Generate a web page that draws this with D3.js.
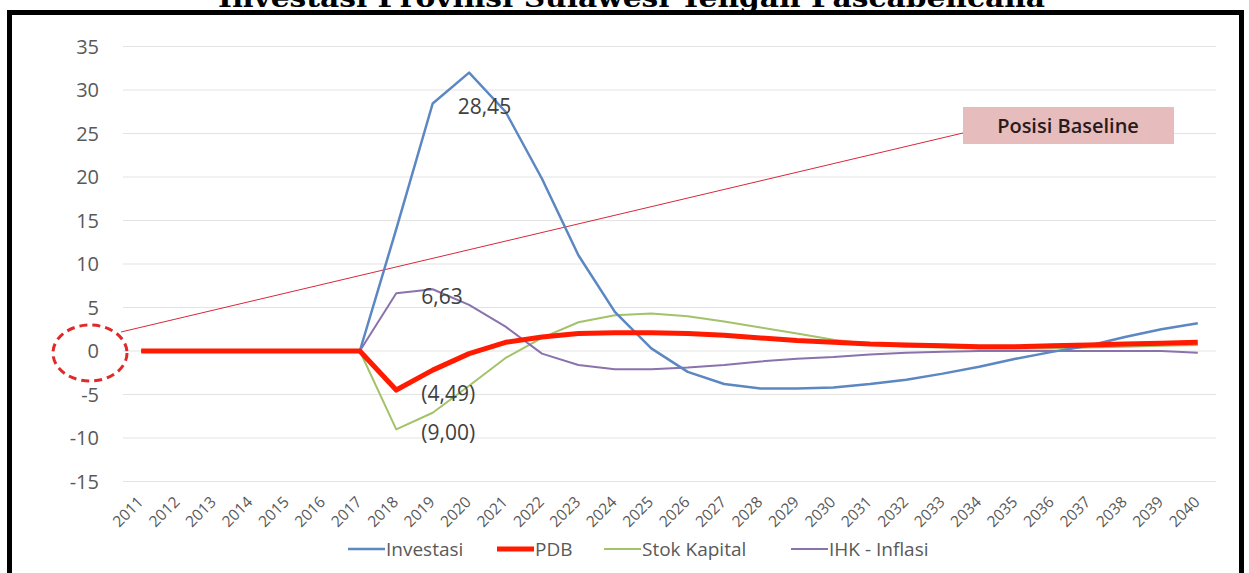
<!DOCTYPE html>
<html>
<head>
<meta charset="utf-8">
<script src="https://cdn.jsdelivr.net/npm/d3@7"></script>
<style>
  body { margin: 0; background: #fff; }
  svg { display: block; }
  text { font-family: "Open Sans", sans-serif; }
</style>
</head>
<body>
<svg width="1249" height="573"></svg>
<script>
// years on the category axis
var years = d3.range(2011, 2041).map(String);

// series values
var investasi = [0, 0, 0, 0, 0, 0, 0, 14, 28.45, 32.0, 27.5, 19.8, 11.0, 4.5, 0.3, -2.4, -3.8, -4.3, -4.3, -4.2, -3.8, -3.3, -2.6, -1.8, -0.9, -0.1, 0.6, 1.6, 2.5, 3.2];
var pdb = [0, 0, 0, 0, 0, 0, 0, -4.49, -2.2, -0.3, 1.0, 1.6, 2.0, 2.1, 2.1, 2.0, 1.8, 1.5, 1.2, 1.0, 0.8, 0.7, 0.6, 0.5, 0.5, 0.6, 0.7, 0.8, 0.9, 1.0];
var stokKapital = [0, 0, 0, 0, 0, 0, 0, -9.0, -7.1, -4.0, -0.8, 1.5, 3.3, 4.1, 4.3, 4.0, 3.4, 2.7, 2.0, 1.3, 0.8, 0.5, 0.4, 0.3, 0.3, 0.3, 0.4, 0.5, 0.6, 0.7];
var ihk = [0, 0, 0, 0, 0, 0, 0, 6.63, 7.1, 5.3, 2.8, -0.3, -1.6, -2.1, -2.1, -1.9, -1.6, -1.2, -0.9, -0.7, -0.4, -0.2, -0.1, 0, 0, 0, 0, 0, 0, -0.2];

var yTicks = [35, 30, 25, 20, 15, 10, 5, 0, -5, -10, -15];

// which points carry a data label: [series index, year]
var labelled = [[0, "2019"], [1, "2018"], [2, "2018"], [3, "2018"]];

var series = [
  { name: "Investasi", values: investasi, color: "#5b87c2", width: 2.5 },
  { name: "PDB", values: pdb, color: "#ff1a00", width: 5 },
  { name: "Stok Kapital", values: stokKapital, color: "#a3c26a", width: 2 },
  { name: "IHK - Inflasi", values: ihk, color: "#8a72ad", width: 2 }
];

var svg = d3.select("svg");

// frame
svg.append("rect")
  .attr("x", 9.5).attr("y", 12.5)
  .attr("width", 1232).attr("height", 600)
  .attr("fill", "#fff").attr("stroke", "#000").attr("stroke-width", 5);

// title, cut off at the top of the picture
svg.append("text")
  .attr("x", 218).attr("y", 7)
  .attr("textLength", 827).attr("lengthAdjust", "spacingAndGlyphs")
  .style("font-family", "'DejaVu Serif', serif")
  .style("font-weight", "bold")
  .style("font-size", "26px")
  .attr("fill", "#000")
  .text("Investasi Provinsi Sulawesi Tengah Pascabencana");

var x = d3.scalePoint().domain(years).range([123, 1216]).padding(0.5);
var y = d3.scaleLinear().domain([-15, 35]).range([481.5, 46.5]);

// gridlines
svg.append("g").selectAll("line")
  .data(yTicks)
  .enter().append("line")
  .attr("x1", 123).attr("x2", 1216)
  .attr("y1", function(d) { return y(d); })
  .attr("y2", function(d) { return y(d); })
  .attr("stroke", "#e3e3e3").attr("stroke-width", 1.2);

// y labels
svg.append("g").selectAll("text")
  .data(yTicks)
  .enter().append("text")
  .attr("x", 99)
  .attr("y", function(d) { return y(d) + 7; })
  .attr("text-anchor", "end")
  .attr("fill", "#595959")
  .style("font-size", "20px")
  .text(function(d) { return d; });

// x labels
svg.append("g").selectAll("text")
  .data(years)
  .enter().append("text")
  .attr("text-anchor", "end")
  .attr("transform", function(d) { return "translate(" + (x(d) + 3) + ",503) rotate(-45)"; })
  .attr("fill", "#595959")
  .style("font-size", "15.5px")
  .text(function(d) { return d; });

// baseline marker
svg.append("ellipse")
  .attr("cx", 90).attr("cy", 353).attr("rx", 37).attr("ry", 28)
  .attr("fill", "none").attr("stroke", "#e02a2a")
  .attr("stroke-width", 3).attr("stroke-dasharray", "8,5");

svg.append("line")
  .attr("x1", 121).attr("y1", 332).attr("x2", 963).attr("y2", 133)
  .attr("stroke", "#d8283a").attr("stroke-width", 1);

svg.append("rect")
  .attr("x", 963).attr("y", 107).attr("width", 211).attr("height", 37)
  .attr("fill", "#e6bcbc");

svg.append("text")
  .attr("x", 1068).attr("y", 133)
  .attr("text-anchor", "middle")
  .attr("fill", "#2a1a1a")
  .style("font-size", "20px").style("font-weight", "600")
  .text("Posisi Baseline");

// lines
var line = d3.line()
  .x(function(d, i) { return x(years[i]); })
  .y(function(d) { return y(d); });

var order = [2, 3, 0, 1];
svg.append("g").selectAll("path")
  .data(order.map(function(i) { return series[i]; }))
  .enter().append("path")
  .attr("d", function(s) { return line(s.values); })
  .attr("fill", "none")
  .attr("stroke", function(s) { return s.color; })
  .attr("stroke-width", function(s) { return s.width; })
  .attr("stroke-linejoin", "round");

// data labels
function fmt(v) {
  var t = Math.abs(v).toFixed(2).replace(".", ",");
  return v < 0 ? "(" + t + ")" : t;
}

svg.append("g").selectAll("text")
  .data(labelled)
  .enter().append("text")
  .attr("x", function(d) { return x(d[1]) + 25; })
  .attr("y", function(d) { return y(series[d[0]].values[years.indexOf(d[1])]) + 11; })
  .attr("fill", "#404040")
  .style("font-size", "21px")
  .text(function(d) { return fmt(series[d[0]].values[years.indexOf(d[1])]); });

// legend
var legendX = [348, 497, 604, 791];
var lg = svg.append("g").selectAll("g")
  .data(series)
  .enter().append("g")
  .attr("transform", function(d, i) { return "translate(" + legendX[i] + ",549)"; });

lg.append("line")
  .attr("x1", 0).attr("x2", 37)
  .attr("stroke", function(d) { return d.color; })
  .attr("stroke-width", function(d) { return d.width; });

lg.append("text")
  .attr("x", 38).attr("y", 7)
  .attr("fill", "#595959")
  .style("font-size", "19px")
  .text(function(d) { return d.name; });
</script>
</body>
</html>
